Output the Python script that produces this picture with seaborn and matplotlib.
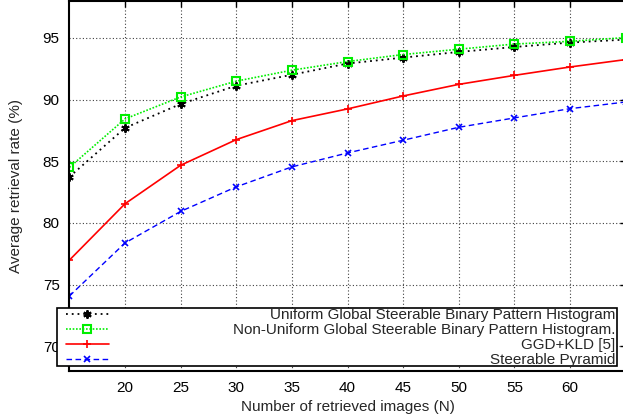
import numpy as np
import pandas as pd
import matplotlib
matplotlib.use("Agg")
import matplotlib.pyplot as plt
from matplotlib.patches import Rectangle
import seaborn as sns

# data
n_images = [15, 20, 25, 30, 35, 40, 45, 50, 55, 60, 65]
uniform_gsbph = [83.74, 87.71, 89.65, 91.13, 92.02, 92.93, 93.41, 93.87, 94.27, 94.63, 94.87]
nonuniform_gsbph = [84.51, 88.44, 90.22, 91.50, 92.39, 93.09, 93.66, 94.09, 94.51, 94.73, 95.03]
ggd_kld = [76.99, 81.56, 84.68, 86.76, 88.30, 89.25, 90.30, 91.24, 91.97, 92.65, 93.25]
steerable_pyramid = [74.08, 78.38, 80.94, 82.93, 84.55, 85.68, 86.71, 87.76, 88.52, 89.27, 89.81]

labels = ["Uniform Global Steerable Binary Pattern Histogram",
          "Non-Uniform Global Steerable Binary Pattern Histogram.",
          "GGD+KLD [5]",
          "Steerable Pyramid"]
x_ticks = [20, 25, 30, 35, 40, 45, 50, 55, 60]
y_ticks = [70, 75, 80, 85, 90, 95]

sns.set_theme(style="white")
plt.rcParams['font.family'] = ['Liberation Sans', 'DejaVu Sans']
fs = 11.0

fig = plt.figure(figsize=(6.23, 4.2), dpi=100)
ax = fig.add_axes([69.4 / 623, 49 / 420, 556.2 / 623, 370 / 420])

# line styles per series (gnuplot look)
styles = [
    dict(color="black", linestyle=(0, (1, 2.2)), linewidth=1.3, marker=(6, 2, 0), markersize=6,
         markeredgecolor="black", markeredgewidth=1.4),
    dict(color="#00ee00", linestyle=(0, (1, 1)), linewidth=1.2, marker="s", markersize=6,
         markerfacecolor="none", markeredgecolor="#00ee00", markeredgewidth=1.5),
    dict(color="#ff0000", linestyle="-", linewidth=1.2, marker="+", markersize=6,
         markeredgecolor="#ff0000", markeredgewidth=1.2),
    dict(color="#0000ff", linestyle=(0, (4, 2.5)), linewidth=1.0, marker="x", markersize=5,
         markeredgecolor="#0000ff", markeredgewidth=1.2),
]
series = [uniform_gsbph, nonuniform_gsbph, ggd_kld, steerable_pyramid]

for vals, lab, st in zip(series, labels, styles):
    df = pd.DataFrame({"N": n_images, "rate": vals})
    sns.lineplot(data=df, x="N", y="rate", ax=ax, label=lab, **st)

ax.set_xlim(15, 65)
ax.set_ylim(68, 98)
ax.set_xticks(x_ticks)
ax.set_yticks(y_ticks)
ax.tick_params(direction="in", length=4, width=1, labelsize=fs, pad=7,
               top=True, right=True, colors="black")
ax.grid(True, color="0.25", linestyle=(0, (1, 2)), linewidth=0.8)
for sp in ax.spines.values():
    sp.set_color("black")
    sp.set_linewidth(1.5)

ax.set_xlabel("Number of retrieved images (N)", fontsize=fs)
ax.set_ylabel("Average retrieval rate (%)", fontsize=fs)
ax.xaxis.set_label_coords(0.5, -0.078)
ax.yaxis.set_label_coords(-0.083, 0.5)

# legend box frame (drawn separately so the entries can sit tight)
frame = Rectangle((56.7 / 623, 1 - 366 / 420), 560 / 623, 57.7 / 420,
                  transform=fig.transFigure, facecolor="white", edgecolor="black",
                  linewidth=1.2, zorder=4.5, clip_on=False)
ax.add_patch(frame)

handles, labs = ax.get_legend_handles_labels()
leg = ax.legend(handles, labs, loc="upper left",
                bbox_to_anchor=(66 / 623, 1 - 308.0 / 420), bbox_transform=fig.transFigure,
                frameon=False, fontsize=fs, borderpad=0, borderaxespad=0,
                handlelength=2.8, handletextpad=0.5, labelspacing=0.07)
leg.set_zorder(5)

# right-align the label texts, like the gnuplot key
col = leg._legend_handle_box.get_children()[0]
for row in col.get_children():
    row.mode = "expand"
    row.width = 615 - 66

fig.savefig("out.png", dpi=100)
